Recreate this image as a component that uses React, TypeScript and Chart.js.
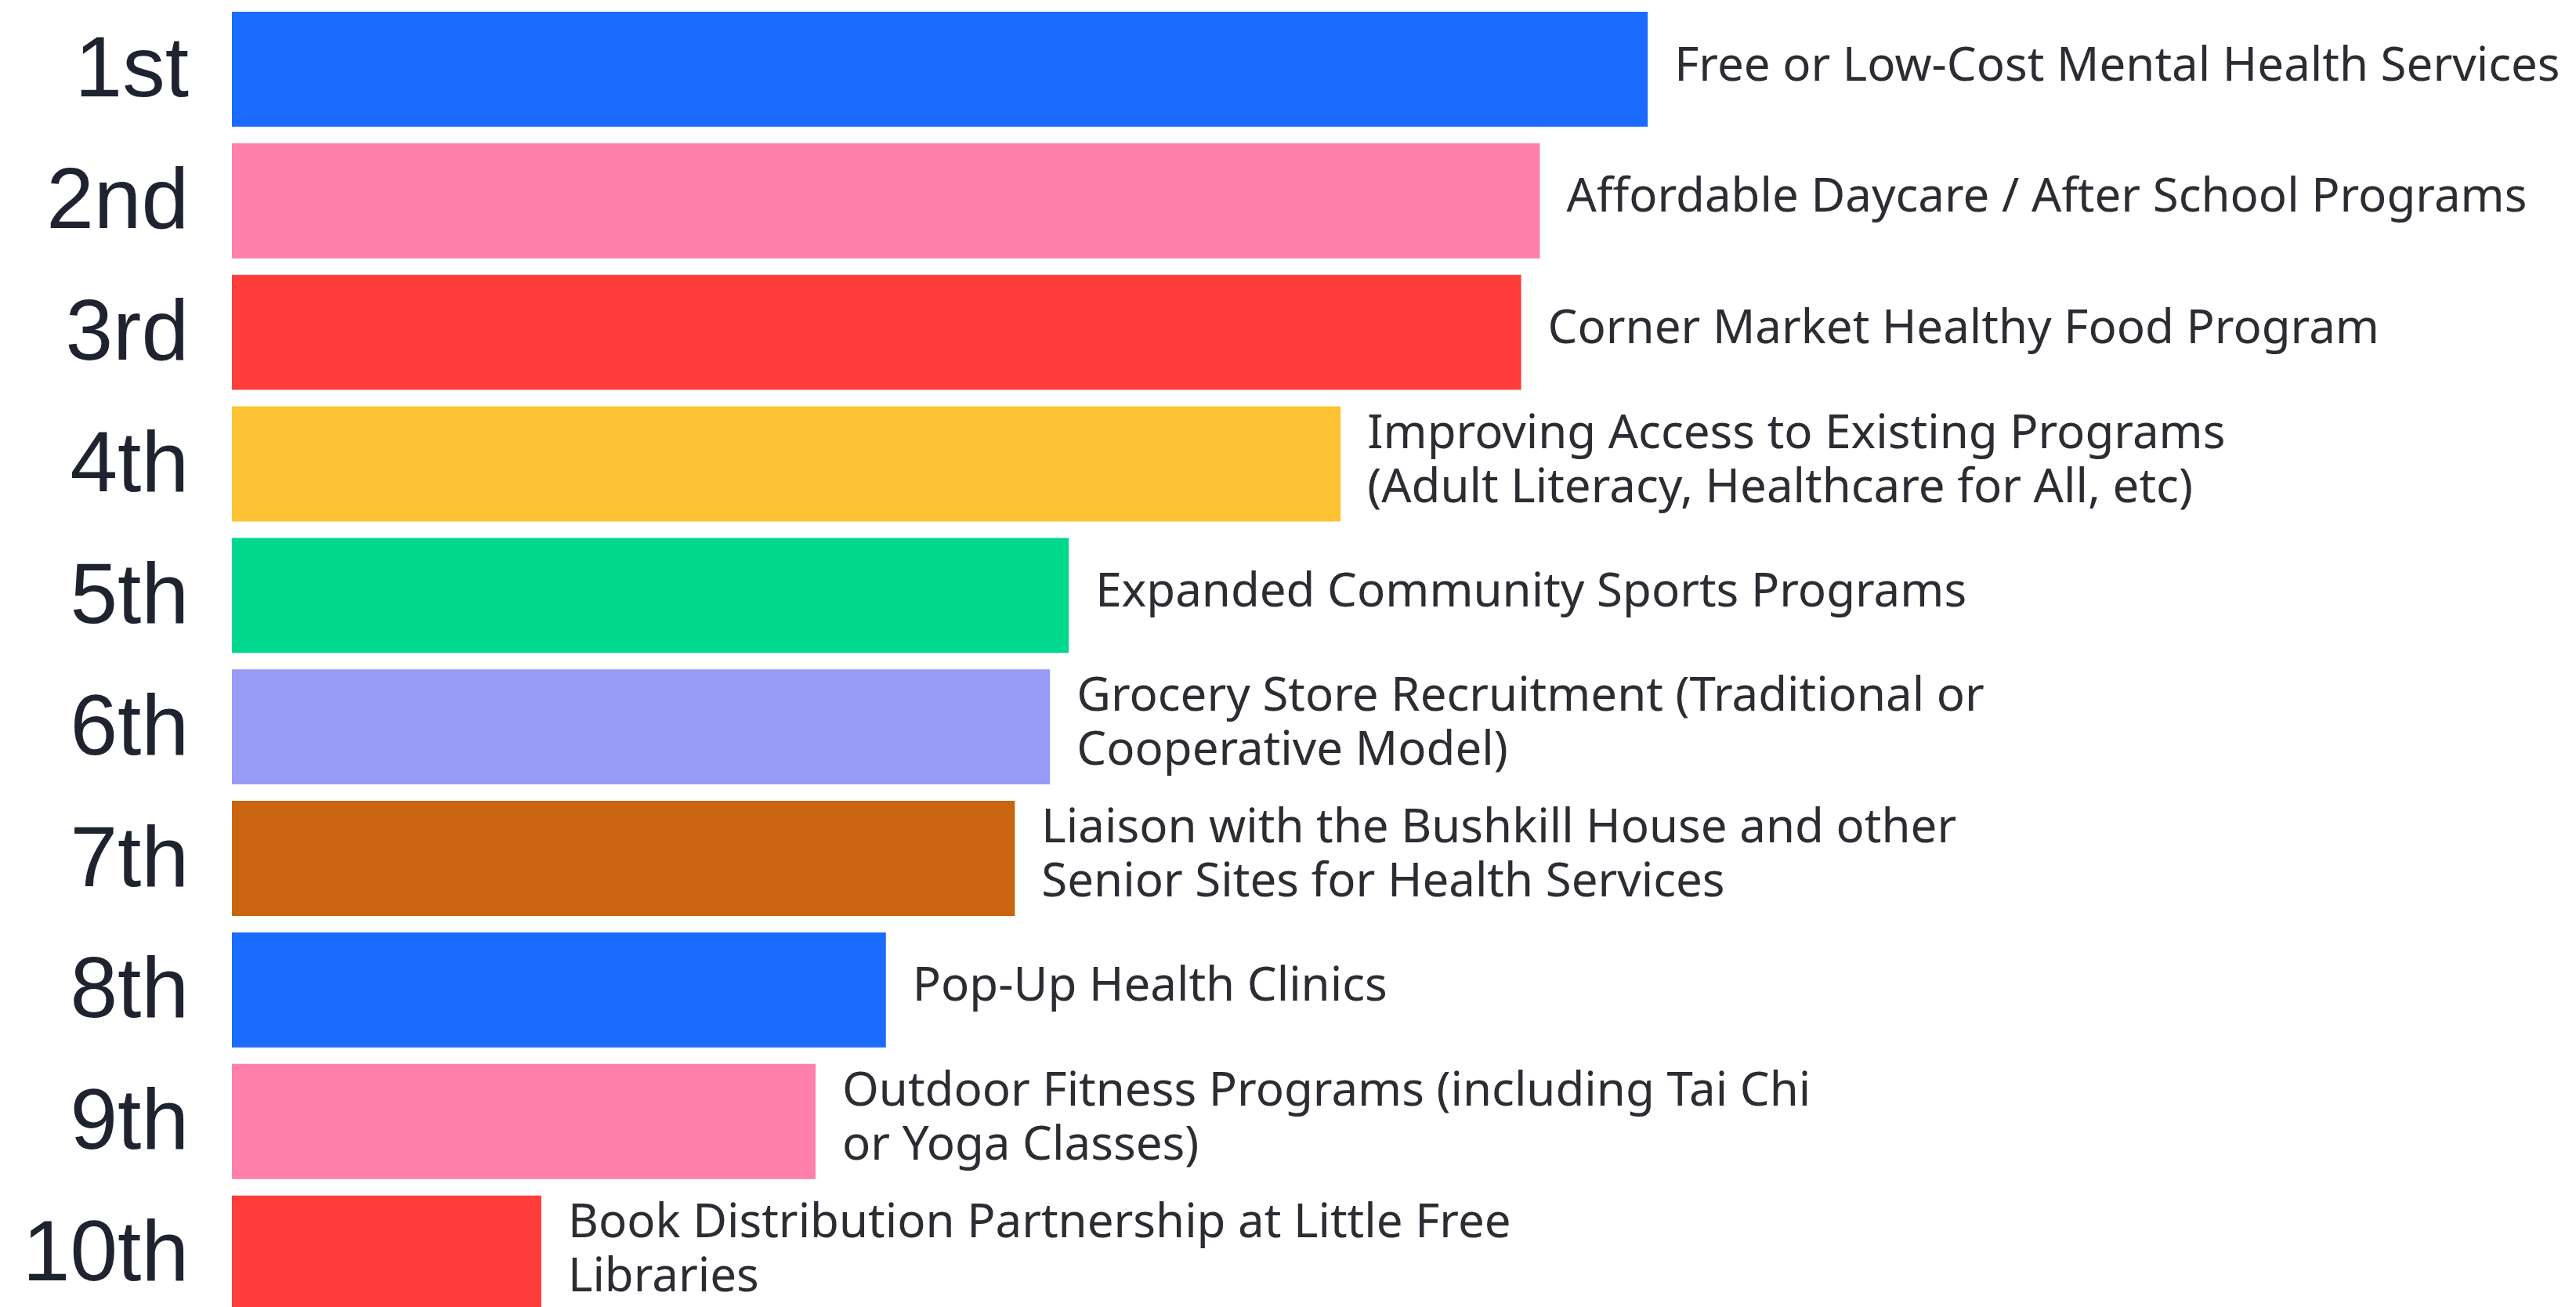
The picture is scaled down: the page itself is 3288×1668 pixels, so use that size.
import React, { useEffect, useRef } from "react";
import { Chart, registerables } from "chart.js";

Chart.register(...registerables);

const ranks = ["1st", "2nd", "3rd", "4th", "5th", "6th", "7th", "8th", "9th", "10th"];

const programs: string[][] = [
  ["Free or Low-Cost Mental Health Services"],
  ["Affordable Daycare / After School Programs"],
  ["Corner Market Healthy Food Program"],
  ["Improving Access to Existing Programs", "(Adult Literacy, Healthcare for All, etc)"],
  ["Expanded Community Sports Programs"],
  ["Grocery Store Recruitment (Traditional or", "Cooperative Model)"],
  ["Liaison with the Bushkill House and other", "Senior Sites for Health Services"],
  ["Pop-Up Health Clinics"],
  ["Outdoor Fitness Programs (including Tai Chi", "or Yoga Classes)"],
  ["Book Distribution Partnership at Little Free", "Libraries"],
];

const scores = [60.4, 55.8, 55.0, 47.3, 35.7, 34.9, 33.4, 27.9, 24.9, 13.2];

const barColors = [
  "#1C6BFF",
  "#FF80AA",
  "#FF3D3A",
  "#FDC335",
  "#00D98D",
  "#989CF6",
  "#C9650E",
  "#1C6BFF",
  "#FF80AA",
  "#FF3D3A",
];

const LABEL_FONT = '400 60px "Noto Sans"';
const LABEL_COLOR = "#2b2d33";

const barLabelPlugin = {
  id: "barLabels",
  afterDatasetsDraw(chart: any) {
    const ctx = chart.ctx;
    const meta = chart.getDatasetMeta(0);
    ctx.save();
    ctx.font = LABEL_FONT;
    ctx.fillStyle = LABEL_COLOR;
    ctx.textAlign = "left";
    ctx.textBaseline = "middle";
    const lineH = 69;
    meta.data.forEach((bar: any, i: number) => {
      const lines = programs[i];
      const x = bar.x + 34;
      const startY = bar.y - 3 - ((lines.length - 1) * lineH) / 2;
      lines.forEach((ln, j) => ctx.fillText(ln, x, startY + j * lineH));
    });
    ctx.restore();
  },
};

export default function App() {
  const ref = useRef<HTMLCanvasElement | null>(null);
  useEffect(() => {
    document.body.style.margin = "0";
    const canvas = ref.current!;
    const chart = new Chart(canvas, {
      type: "bar",
      data: {
        labels: ranks,
        datasets: [
          {
            data: scores,
            backgroundColor: barColors,
            borderWidth: 0,
            categoryPercentage: 1,
            barPercentage: 0.875,
          },
        ],
      },
      options: {
        indexAxis: "y",
        responsive: false,
        animation: false,
        layout: { padding: { top: 4.5, right: 0, bottom: 0, left: 0 } },
        plugins: { legend: { display: false }, tooltip: { enabled: false } },
        scales: {
          x: { display: false, min: 0, max: 100 },
          y: {
            grid: { display: false, drawTicks: false },
            border: { display: false },
            ticks: {
              padding: 55,
              labelOffset: 5,
              color: "#1f2330",
              font: { family: '"Liberation Sans", Arial, sans-serif', size: 109, weight: "normal" },
            },
            afterFit(scale: any) {
              scale.width = 296;
              scale.paddingTop = 0;
              scale.paddingBottom = 0;
            },
          },
        },
      },
      plugins: [barLabelPlugin],
    });
    return () => chart.destroy();
  }, []);
  return (
    <div style={{ position: "fixed", left: 0, top: 0, width: 3288, height: 1668, overflow: "hidden", background: "#fff" }}>
      <canvas ref={ref} width={3288} height={1683} style={{ display: "block" }} />
    </div>
  );
}
